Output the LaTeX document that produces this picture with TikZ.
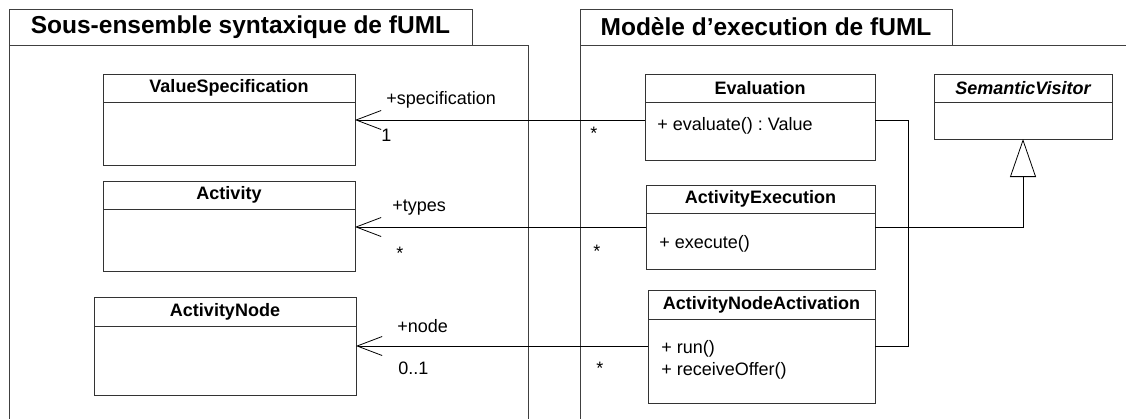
\documentclass[tikz,border=0pt]{standalone}
\usepackage{fontspec}
\setmainfont{Liberation Sans}
\usetikzlibrary{arrows.meta,calc}
\begin{document}
\frenchspacing
\begin{tikzpicture}[x=1pt,y=-1pt,
  line width=0.9pt,
  pkgline/.style={draw=black!75},
  box/.style={draw=black!80, line width=0.9pt, fill=white, anchor=north west, inner sep=0pt, outer sep=0pt},
  ctitle/.style={font=\fontsize{18}{21}\selectfont\bfseries, inner sep=0pt},
  attr/.style={font=\fontsize{18}{21.7}\selectfont\frenchspacing, inner sep=0pt, anchor=base west},
  lbl/.style={font=\fontsize{18}{21}\selectfont, inner sep=0pt, anchor=base west},
  ptitle/.style={font=\fontsize{24.5}{28}\selectfont\bfseries, inner sep=0pt},
  assoc/.style={draw=black, line width=0.8pt, -{Straight Barb[length=25pt,width=19pt,line width=0.8pt]}},
  gen/.style={draw=black, line width=0.8pt, -{Triangle[open,length=38pt,width=26pt,line width=0.8pt,fill=white]}},
  plain/.style={draw=black, line width=0.8pt}
]
\useasboundingbox (0,0) rectangle (1126,418);

% ---- packages ----
\node[box, draw=black!75, minimum width=463pt, minimum height=36pt] (tabL) at (9,9) {};
\node[ptitle] (tabLt) at (tabL.center) {Sous-ensemble syntaxique de fUML};
\draw[pkgline] (9,420) -- (9,45) -- (528,45) -- (528,420);
\node[box, draw=black!75, minimum width=372pt, minimum height=36pt] (tabR) at (580,9) {};
\node[ptitle] (tabRt) at (tabR.center) {Modèle d’execution de fUML};
\draw[pkgline] (580,420) -- (580,45) -- (1130,45);

% ---- classes ----
% ValueSpecification
\node[box, minimum width=252pt, minimum height=91pt] (vs) at (103,74) {};
\draw[draw=black!80] (103,102) -- (355,102);
\node[ctitle] (vst) at (229,88) {ValueSpecification};
% Activity
\node[box, minimum width=252pt, minimum height=90pt] (act) at (103,181) {};
\draw[draw=black!80] (103,209) -- (355,209);
\node[ctitle] (actt) at (229,195) {Activity};
% ActivityNode
\node[box, minimum width=262pt, minimum height=98pt] (an) at (94,297) {};
\draw[draw=black!80] (94,326) -- (356,326);
\node[ctitle] (ant) at (225,311.5) {ActivityNode};

% Evaluation
\node[box, minimum width=230pt, minimum height=86pt] (ev) at (645,74) {};
\draw[draw=black!80] (645,102) -- (875,102);
\node[ctitle] (evt) at (760,88) {Evaluation};
\node[attr] (eva) at (657,130) {+ evaluate() : Value};
% ActivityExecution
\node[box, minimum width=229pt, minimum height=84pt] (ae) at (646,185) {};
\draw[draw=black!80] (646,213) -- (875,213);
\node[ctitle] (aet) at (760.5,199) {ActivityExecution};
\node[attr] (aea) at (659,248) {+ execute()};
% ActivityNodeActivation
\node[box, minimum width=227pt, minimum height=113pt] (ana) at (648,290) {};
\draw[draw=black!80] (648,319) -- (875,319);
\node[ctitle] (anat) at (761.5,304.5) {ActivityNodeActivation};
\node[attr] (anaa) at (661,353) {+ run()};
\node[attr] (anab) at (661,375) {+ receiveOffer()};
% SemanticVisitor
\node[box, minimum width=178pt, minimum height=65pt] (sv) at (934,74) {};
\draw[draw=black!80] (934,102) -- (1112,102);
\node[ctitle, font=\fontsize{18}{21}\selectfont\bfseries\itshape] (svt) at (1023,88) {SemanticVisitor};

% ---- coordinates for connector rows ----
\coordinate (r1) at (0,120);
\coordinate (r2) at (0,227);
\coordinate (r3) at (0,346);
\coordinate (vx) at (908,0);
\coordinate (gx) at (1023,0);

% ---- associations ----
\draw[assoc] (ev.west |- r1) -- (vs.east |- r1);
\draw[assoc] (ae.west |- r2) -- (act.east |- r2);
\draw[assoc] (ana.west |- r3) -- (an.east |- r3);

\node[lbl] (l1a) at (386,104) {+specification};
\node[lbl] (l1b) at (381,141) {1};
\node[lbl] (l1c) at (590,139) {*};
\node[lbl] (l2a) at (392,211) {+types};
\node[lbl] (l2b) at (396,259) {*};
\node[lbl] (l2c) at (593,257) {*};
\node[lbl] (l3a) at (397,332) {+node};
\node[lbl] (l3b) at (398,374) {0..1};
\node[lbl] (l3c) at (596,374) {*};

% ---- generalization & link ----
\draw[gen] (ae.east |- r2) -- (gx |- r2) -- (sv.south);
\draw[plain] (ev.east |- r1) -- (vx |- r1) -- (vx |- r3) -- (ana.east |- r3);
\end{tikzpicture}
\end{document}
